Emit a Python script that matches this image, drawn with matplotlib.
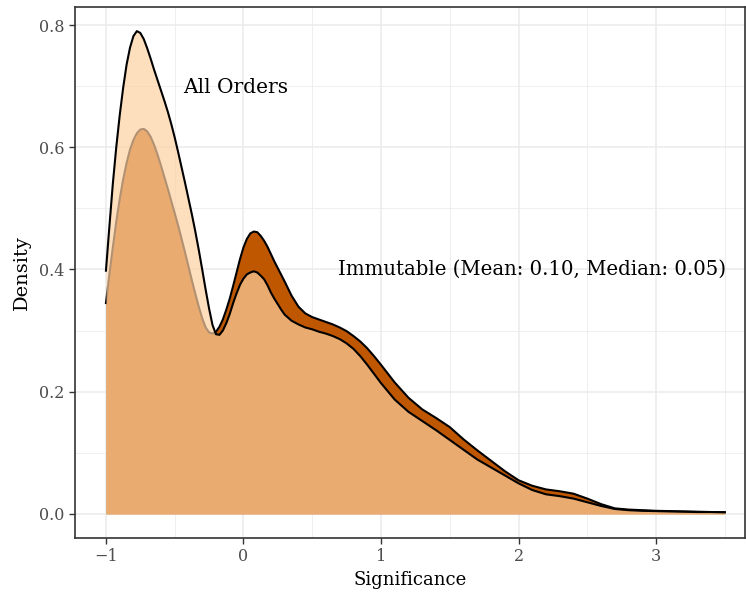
import numpy as np
import matplotlib
matplotlib.use("Agg")
import matplotlib.pyplot as plt
from matplotlib.ticker import MultipleLocator

plt.rcParams['font.family'] = ['DejaVu Serif']

# density estimates
all_x = [-1.000, -0.975, -0.950, -0.925, -0.900, -0.875, -0.850, -0.825, -0.800, -0.775,
         -0.750, -0.725, -0.700, -0.675, -0.650, -0.625, -0.600, -0.575, -0.550, -0.525,
         -0.500, -0.475, -0.450, -0.425, -0.400, -0.375, -0.350, -0.325, -0.300, -0.275,
         -0.250, -0.225, -0.200, -0.175, -0.150, -0.125, -0.100, -0.075, -0.050, -0.025,
         0.000, 0.025, 0.050, 0.075, 0.100, 0.125, 0.150, 0.175, 0.200, 0.225,
         0.250, 0.275, 0.300, 0.350, 0.400, 0.450, 0.500, 0.550, 0.600, 0.650,
         0.700, 0.750, 0.800, 0.850, 0.900, 0.950, 1.000, 1.100, 1.200, 1.300,
         1.400, 1.500, 1.600, 1.700, 1.800, 1.900, 2.000, 2.100, 2.200, 2.300,
         2.400, 2.500, 2.600, 2.700, 2.800, 2.900, 3.000, 3.100, 3.200, 3.300,
         3.400, 3.500]
all_y = [0.398, 0.470, 0.540, 0.600, 0.652, 0.697, 0.735, 0.763, 0.782, 0.790,
         0.787, 0.777, 0.762, 0.745, 0.727, 0.710, 0.693, 0.676, 0.658, 0.638,
         0.616, 0.592, 0.567, 0.542, 0.516, 0.490, 0.462, 0.432, 0.400, 0.367,
         0.336, 0.309, 0.294, 0.293, 0.300, 0.312, 0.327, 0.345, 0.361, 0.375,
         0.385, 0.392, 0.395, 0.397, 0.395, 0.390, 0.384, 0.374, 0.362, 0.352,
         0.343, 0.334, 0.326, 0.316, 0.310, 0.305, 0.302, 0.298, 0.295, 0.291,
         0.286, 0.279, 0.270, 0.258, 0.244, 0.229, 0.214, 0.187, 0.167, 0.152,
         0.137, 0.121, 0.105, 0.089, 0.076, 0.063, 0.050, 0.039, 0.032, 0.029,
         0.025, 0.019, 0.013, 0.008, 0.006, 0.005, 0.0045, 0.004, 0.0035, 0.003,
         0.003, 0.0025]

imm_x = [-1.000, -0.975, -0.950, -0.925, -0.900, -0.875, -0.850, -0.825, -0.800, -0.775,
         -0.750, -0.725, -0.700, -0.675, -0.650, -0.625, -0.600, -0.575, -0.550, -0.525,
         -0.500, -0.475, -0.450, -0.425, -0.400, -0.375, -0.350, -0.325, -0.300, -0.275,
         -0.250, -0.225, -0.200, -0.175, -0.150, -0.125, -0.100, -0.075, -0.050, -0.025,
         0.000, 0.025, 0.050, 0.075, 0.100, 0.125, 0.150, 0.175, 0.200, 0.225,
         0.250, 0.275, 0.300, 0.350, 0.400, 0.450, 0.500, 0.550, 0.600, 0.650,
         0.700, 0.750, 0.800, 0.850, 0.900, 0.950, 1.000, 1.100, 1.200, 1.300,
         1.400, 1.500, 1.600, 1.700, 1.800, 1.900, 2.000, 2.100, 2.200, 2.300,
         2.400, 2.500, 2.600, 2.700, 2.800, 2.900, 3.000, 3.100, 3.200, 3.300,
         3.400, 3.500]
imm_y = [0.345, 0.392, 0.436, 0.478, 0.515, 0.547, 0.574, 0.596, 0.612, 0.623,
         0.629, 0.630, 0.626, 0.617, 0.604, 0.588, 0.570, 0.551, 0.532, 0.512,
         0.492, 0.472, 0.450, 0.428, 0.405, 0.382, 0.360, 0.339, 0.320, 0.305,
         0.297, 0.295, 0.298, 0.306, 0.318, 0.334, 0.352, 0.373, 0.395, 0.417,
         0.436, 0.450, 0.459, 0.462, 0.461, 0.455, 0.447, 0.437, 0.425, 0.413,
         0.402, 0.391, 0.380, 0.357, 0.339, 0.328, 0.322, 0.318, 0.314, 0.310,
         0.305, 0.299, 0.291, 0.282, 0.271, 0.258, 0.244, 0.215, 0.190, 0.171,
         0.157, 0.142, 0.122, 0.104, 0.087, 0.070, 0.055, 0.046, 0.040, 0.037,
         0.033, 0.025, 0.016, 0.009, 0.007, 0.006, 0.005, 0.0045, 0.004, 0.0035,
         0.003, 0.0027]

fig = plt.figure(figsize=(7.46, 5.99), dpi=100)
ax = fig.add_axes([75 / 746, 61 / 599, 670 / 746, 531 / 599])

# immutable first (opaque), all orders on top with alpha
ax.fill_between(imm_x, imm_y, 0, color='#bf5700', lw=0, zorder=2)
ax.plot(imm_x, imm_y, color='black', lw=1.5, zorder=3)
ax.fill_between(all_x, all_y, 0, color='#fdd0a2', alpha=0.7, lw=0, zorder=4)
ax.plot(all_x, all_y, color='black', lw=1.5, zorder=5)

ax.text(-0.055, 0.697, 'All Orders', ha='center', va='center', fontsize=14.5, zorder=6)
ax.text(2.10, 0.40, 'Immutable (Mean: 0.10, Median: 0.05)', ha='center', va='center',
        fontsize=14.2, zorder=6)

ax.set_xlim(-1.225, 3.647)
ax.set_ylim(-0.0395, 0.8295)
ax.xaxis.set_minor_locator(MultipleLocator(0.5))
ax.yaxis.set_minor_locator(MultipleLocator(0.1))
ax.set_xticks([-1, 0, 1, 2, 3])
ax.set_xticklabels(['\u22121', '0', '1', '2', '3'])
ax.set_yticks([0, 0.2, 0.4, 0.6, 0.8])
ax.set_yticklabels(['0.0', '0.2', '0.4', '0.6', '0.8'])
ax.grid(which='major', color='#ebebeb', lw=1.1, zorder=0)
ax.grid(which='minor', color='#ebebeb', lw=0.55, zorder=0)
ax.set_axisbelow(True)
ax.tick_params(which='major', direction='out', length=4, width=1, color='#333333',
               labelcolor='#4d4d4d', labelsize=11.5)
ax.tick_params(which='minor', length=0)
for s in ax.spines.values():
    s.set_color('#333333')
    s.set_linewidth(1.2)

ax.set_xlabel('Significance', fontsize=13, labelpad=4)
ax.set_ylabel('Density', fontsize=14, labelpad=6)

fig.savefig('out.png', dpi=100)
